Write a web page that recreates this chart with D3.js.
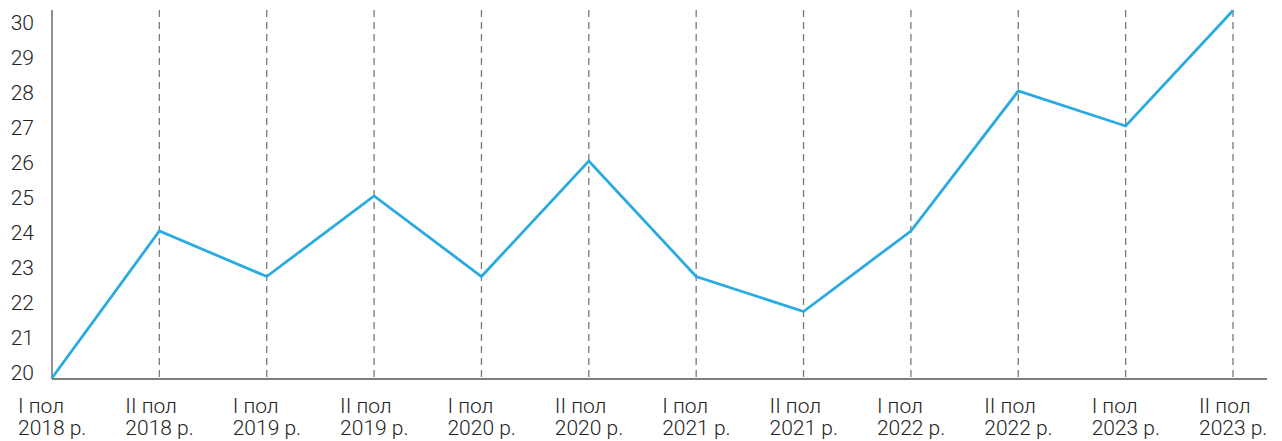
<!DOCTYPE html>
<html>
<head>
<meta charset="utf-8">
<script src="https://cdn.jsdelivr.net/npm/d3@7"></script>
<style>
  body { margin: 0; background: #fff; }
  svg text { font-family: Roboto, "Open Sans", sans-serif; font-weight: 300; fill: #222; }
</style>
</head>
<body>
<svg id="chart" width="1282" height="441"></svg>
<script>
const halves = ['I пол', 'II пол', 'I пол', 'II пол', 'I пол', 'II пол', 'I пол', 'II пол', 'I пол', 'II пол', 'I пол', 'II пол'];
const years = ['2018 р.', '2018 р.', '2019 р.', '2019 р.', '2020 р.', '2020 р.', '2021 р.', '2021 р.', '2022 р.', '2022 р.', '2023 р.', '2023 р.'];
const values = [19.8, 24, 22.7, 25, 22.7, 26, 22.7, 21.7, 24, 28, 27, 30.3];
const yTicks = [20, 21, 22, 23, 24, 25, 26, 27, 28, 29, 30];

const svg = d3.select('#chart');
const idx = d3.range(values.length);

const x = d3.scalePoint().domain(idx).range([52, 1233]);
const y = d3.scaleLinear().domain([20, 30]).range([371, 21]);

const plotTop = 10, plotBase = 379;

// dashed verticals
svg.append('g')
  .selectAll('line')
  .data(idx.slice(1))
  .join('line')
  .attr('x1', d => x(d)).attr('x2', d => x(d))
  .attr('y1', plotTop).attr('y2', plotBase)
  .attr('stroke', '#7a7a7a')
  .attr('stroke-width', 1.3)
  .attr('stroke-dasharray', '7,5');

// axes lines
svg.append('line')
  .attr('x1', 52).attr('x2', 52).attr('y1', plotTop).attr('y2', plotBase)
  .attr('stroke', '#555').attr('stroke-width', 1.3);
svg.append('line')
  .attr('x1', 52).attr('x2', 1267).attr('y1', plotBase).attr('y2', plotBase)
  .attr('stroke', '#555').attr('stroke-width', 1.3);

// y labels
svg.append('g')
  .selectAll('text')
  .data(yTicks)
  .join('text')
  .attr('x', 34)
  .attr('y', d => y(d) + 9)
  .attr('text-anchor', 'end')
  .attr('font-size', 21)
  .text(d => d);

// x labels, two lines each
const xl = svg.append('g')
  .selectAll('text')
  .data(idx)
  .join('text')
  .attr('font-size', 21);
xl.append('tspan')
  .attr('x', d => x(d) - 34).attr('y', 413)
  .text(d => halves[d]);
xl.append('tspan')
  .attr('x', d => x(d) - 34).attr('y', 435)
  .text(d => years[d]);

// line
const line = d3.line()
  .x((d, i) => x(i))
  .y(d => y(d));

svg.append('path')
  .datum(values)
  .attr('fill', 'none')
  .attr('stroke', '#29abe2')
  .attr('stroke-width', 2.8)
  .attr('d', line);
</script>
</body>
</html>
